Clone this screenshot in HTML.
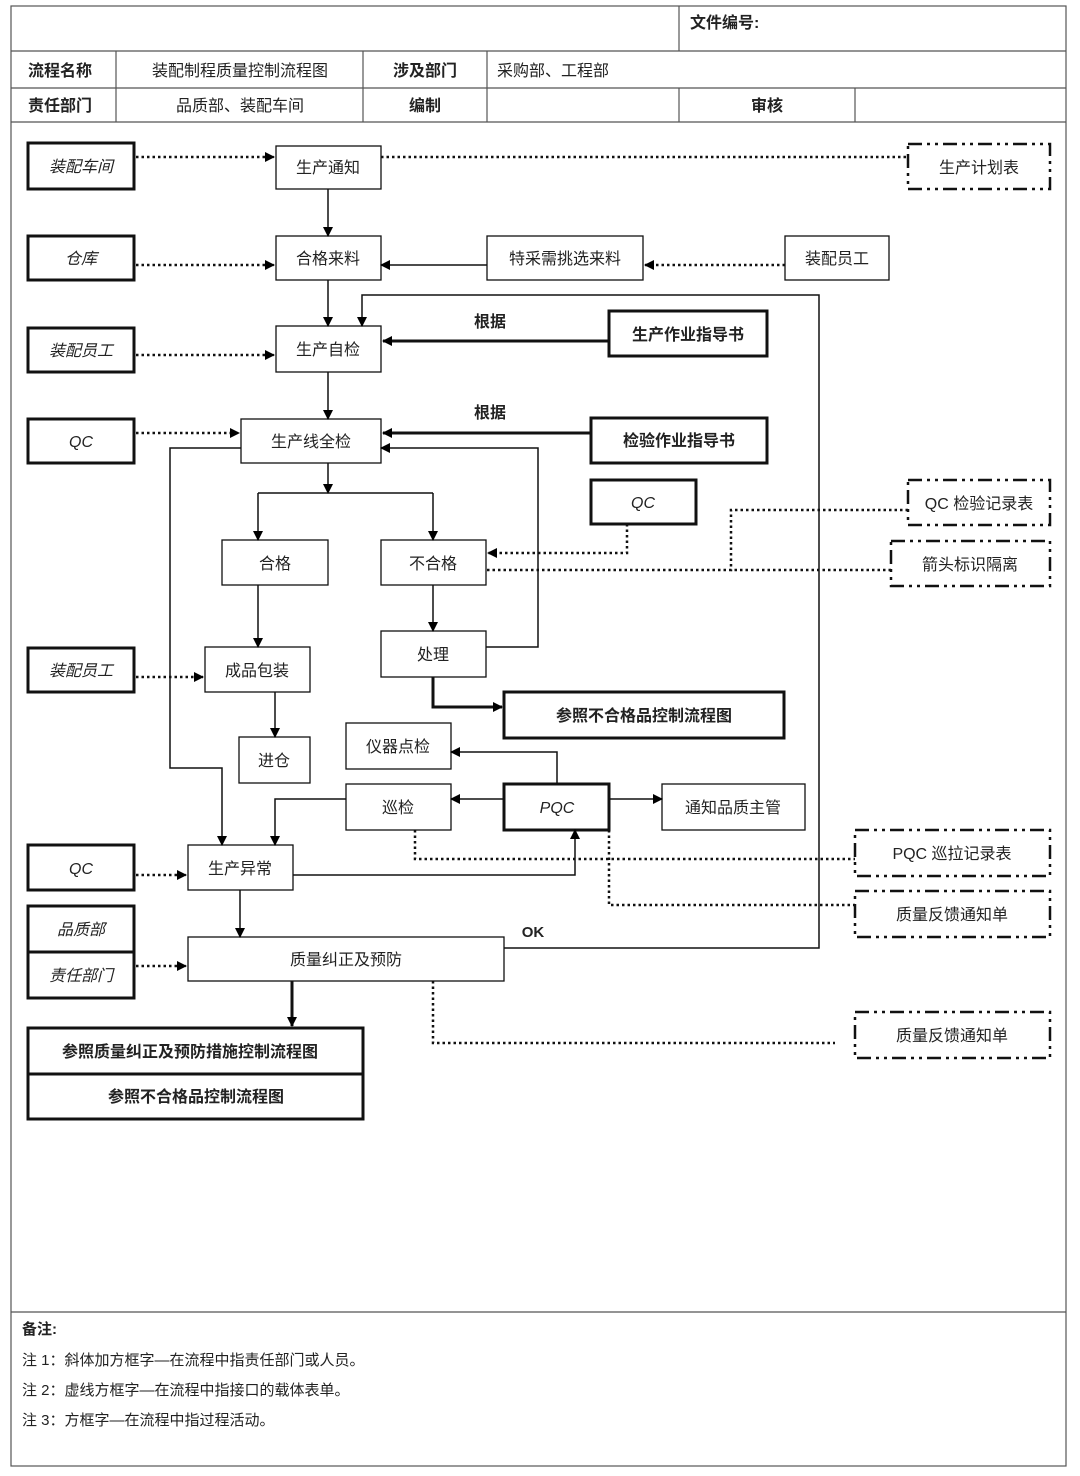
<!DOCTYPE html>
<html><head><meta charset="utf-8"><style>
body{margin:0;background:#fff}
svg text{font-family:"Liberation Sans","Noto Sans CJK SC",sans-serif;fill:#222}
</style></head><body>
<svg width="1080" height="1471" viewBox="0 0 1080 1471" xmlns="http://www.w3.org/2000/svg">
<defs>
<marker id="a" markerWidth="10" markerHeight="10" refX="9" refY="5" orient="auto" markerUnits="userSpaceOnUse"><path d="M0,0 L10,5 L0,10 z" fill="#000"/></marker>
</defs>
<g fill="none" stroke="#555" stroke-width="1.2">
<rect x="11" y="6" width="1055" height="1460"/>
<line x1="11" y1="51" x2="1066" y2="51"/>
<line x1="11" y1="88" x2="1066" y2="88"/>
<line x1="11" y1="122" x2="1066" y2="122"/>
<line x1="11" y1="1312" x2="1066" y2="1312"/>
<line x1="679" y1="6" x2="679" y2="51"/>
<line x1="116" y1="51" x2="116" y2="122"/>
<line x1="363" y1="51" x2="363" y2="122"/>
<line x1="487" y1="51" x2="487" y2="122"/>
<line x1="679" y1="88" x2="679" y2="122"/>
<line x1="855" y1="88" x2="855" y2="122"/>
</g>
<g font-size="16" font-weight="bold">
<text x="690" y="28">文件编号:</text>
<text x="28" y="76">流程名称</text>
<text x="240" y="76" text-anchor="middle" font-weight="normal">装配制程质量控制流程图</text>
<text x="425" y="76" text-anchor="middle">涉及部门</text>
<text x="497" y="76" font-weight="normal">采购部、工程部</text>
<text x="28" y="111">责任部门</text>
<text x="240" y="111" text-anchor="middle" font-weight="normal">品质部、装配车间</text>
<text x="425" y="111" text-anchor="middle">编制</text>
<text x="767" y="111" text-anchor="middle">审核</text>
</g>
<!-- boxes -->
<g fill="none" stroke="#111" stroke-width="1.3">
<rect x="276" y="146" width="105" height="43"/>
<rect x="276" y="236" width="105" height="44"/>
<rect x="487" y="236" width="156" height="44"/>
<rect x="785" y="236" width="104" height="44"/>
<rect x="276" y="326" width="105" height="46"/>
<rect x="241" y="419" width="140" height="44"/>
<rect x="222" y="540" width="106" height="45"/>
<rect x="381" y="540" width="105" height="45"/>
<rect x="381" y="631" width="105" height="46"/>
<rect x="205" y="647" width="105" height="45"/>
<rect x="239" y="737" width="71" height="46"/>
<rect x="346" y="723" width="105" height="46"/>
<rect x="346" y="784" width="105" height="46"/>
<rect x="662" y="784" width="143" height="46"/>
<rect x="188" y="845" width="105" height="45"/>
<rect x="188" y="937" width="316" height="44"/>
</g>
<g fill="none" stroke="#111" stroke-width="3">
<rect x="28" y="143" width="106" height="46"/>
<rect x="28" y="236" width="106" height="44"/>
<rect x="28" y="328" width="106" height="44"/>
<rect x="28" y="419" width="106" height="44"/>
<rect x="609" y="311" width="158" height="45"/>
<rect x="591" y="418" width="176" height="45"/>
<rect x="591" y="480" width="105" height="44"/>
<rect x="28" y="648" width="106" height="44"/>
<rect x="504" y="692" width="280" height="46"/>
<rect x="504" y="784" width="105" height="46"/>
<rect x="28" y="845" width="106" height="45"/>
<rect x="28" y="906" width="106" height="92"/>
<line x1="28" y1="952" x2="134" y2="952"/>
<rect x="28" y="1028" width="335" height="91"/>
<line x1="28" y1="1074" x2="363" y2="1074"/>
</g>
<g fill="none" stroke="#111" stroke-width="2.5" stroke-dasharray="14,5,3,5,3,5">
<rect x="908" y="144" width="142" height="45"/>
<rect x="908" y="480" width="142" height="45"/>
<rect x="891" y="541" width="159" height="45"/>
<rect x="855" y="830" width="195" height="46"/>
<rect x="855" y="891" width="195" height="46"/>
<rect x="855" y="1012" width="195" height="46"/>
</g>
<!-- solid connectors -->
<g fill="none" stroke="#111" stroke-width="1.5">
<path d="M328,189 V236" marker-end="url(#a)"/>
<path d="M487,265 H381" marker-end="url(#a)"/>
<path d="M328,280 V326" marker-end="url(#a)"/>
<path d="M504,948 H819 V295 H362 V326" marker-end="url(#a)"/>
<path d="M328,372 V419" marker-end="url(#a)"/>
<path d="M486,647 H538 V448 H381" marker-end="url(#a)"/>
<path d="M241,448 H170 V768 H222 V845" marker-end="url(#a)"/>
<path d="M328,463 V493" marker-end="url(#a)"/>
<path d="M258,493 H433"/>
<path d="M258,493 V540" marker-end="url(#a)"/>
<path d="M433,493 V540" marker-end="url(#a)"/>
<path d="M258,585 V647" marker-end="url(#a)"/>
<path d="M433,585 V631" marker-end="url(#a)"/>
<path d="M275,692 V737" marker-end="url(#a)"/>
<path d="M557,784 V752 H451" marker-end="url(#a)"/>
<path d="M504,799 H451" marker-end="url(#a)"/>
<path d="M609,799 H662" marker-end="url(#a)"/>
<path d="M346,799 H275 V845" marker-end="url(#a)"/>
<path d="M293,875 H575 V830" marker-end="url(#a)"/>
<path d="M240,890 V937" marker-end="url(#a)"/>
</g>
<g fill="none" stroke="#111" stroke-width="3">
<path d="M609,341 H383" marker-end="url(#a)"/>
<path d="M591,433 H383" marker-end="url(#a)"/>
<path d="M433,677 V707 H502" marker-end="url(#a)"/>
<path d="M292,981 V1026" marker-end="url(#a)"/>
</g>
<!-- dotted -->
<g fill="none" stroke="#111" stroke-width="2.5" stroke-dasharray="2.5,3">
<path d="M136,157 H274" marker-end="url(#a)"/>
<path d="M381,157 H908"/>
<path d="M136,265 H274" marker-end="url(#a)"/>
<path d="M785,265 H645" marker-end="url(#a)"/>
<path d="M136,355 H274" marker-end="url(#a)"/>
<path d="M136,433 H239" marker-end="url(#a)"/>
<path d="M627,524 V553 H488" marker-end="url(#a)"/>
<path d="M908,510 H731 V570 H486"/>
<path d="M891,570 H731"/>
<path d="M136,677 H203" marker-end="url(#a)"/>
<path d="M415,830 V859 H855"/>
<path d="M609,830 V905 H855"/>
<path d="M136,875 H186" marker-end="url(#a)"/>
<path d="M136,966 H186" marker-end="url(#a)"/>
<path d="M433,981 V1043 H835"/>
</g>
<!-- labels -->
<g font-size="16" text-anchor="middle">
<text x="328" y="173">生产通知</text>
<text x="328" y="264">合格来料</text>
<text x="565" y="264">特采需挑选来料</text>
<text x="837" y="264">装配员工</text>
<text x="328" y="355">生产自检</text>
<text x="311" y="447">生产线全检</text>
<text x="275" y="569">合格</text>
<text x="433" y="569">不合格</text>
<text x="433" y="660">处理</text>
<text x="257" y="676">成品包装</text>
<text x="274" y="766">进仓</text>
<text x="398" y="752">仪器点检</text>
<text x="398" y="813">巡检</text>
<text x="733" y="813">通知品质主管</text>
<text x="240" y="874">生产异常</text>
<text x="346" y="965">质量纠正及预防</text>
<text x="979" y="173">生产计划表</text>
<text x="979" y="509">QC 检验记录表</text>
<text x="970" y="570">箭头标识隔离</text>
<text x="952" y="859">PQC 巡拉记录表</text>
<text x="952" y="920">质量反馈通知单</text>
<text x="952" y="1041">质量反馈通知单</text>
</g>
<g font-size="16" text-anchor="middle" font-style="italic">
<text x="81" y="172">装配车间</text>
<text x="81" y="264">仓库</text>
<text x="81" y="356">装配员工</text>
<text x="81" y="447">QC</text>
<text x="643" y="508">QC</text>
<text x="81" y="676">装配员工</text>
<text x="557" y="813">PQC</text>
<text x="81" y="874">QC</text>
<text x="81" y="935">品质部</text>
<text x="81" y="981">责任部门</text>
</g>
<g font-size="16" text-anchor="middle" font-weight="bold">
<text x="688" y="340">生产作业指导书</text>
<text x="679" y="446">检验作业指导书</text>
<text x="644" y="721">参照不合格品控制流程图</text>
<text x="190" y="1057">参照质量纠正及预防措施控制流程图</text>
<text x="196" y="1102">参照不合格品控制流程图</text>
<text x="490" y="327">根据</text>
<text x="490" y="418">根据</text>
<text x="533" y="937" font-size="15">OK</text>
</g>
<g font-size="15">
<text x="22" y="1334" font-weight="bold">备注:</text>
<text x="22" y="1365">注 1：斜体加方框字—在流程中指责任部门或人员。</text>
<text x="22" y="1395">注 2：虚线方框字—在流程中指接口的载体表单。</text>
<text x="22" y="1425">注 3：方框字—在流程中指过程活动。</text>
</g>
</svg>
</body></html>
